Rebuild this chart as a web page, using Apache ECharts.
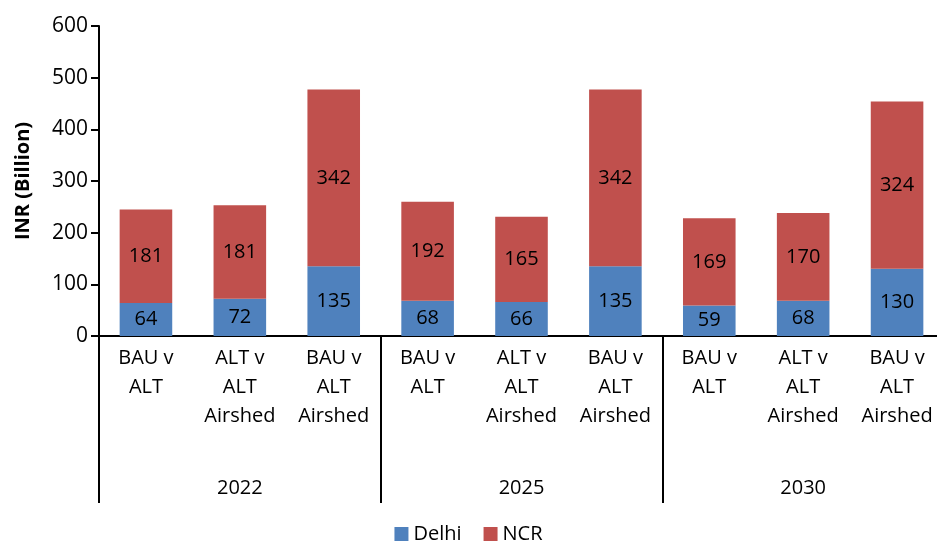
<!DOCTYPE html>
<html>
<head>
<meta charset="utf-8">
<script src="https://cdn.jsdelivr.net/npm/echarts@6/dist/echarts.min.js"></script>
<style>
  html, body { margin: 0; padding: 0; background: #fff; }
  #chart { width: 937px; height: 549px; }
</style>
</head>
<body>
<div id="chart"></div>
<script>
// categories and values
const categories = ['BAU v\nALT', 'ALT v\nALT\nAirshed', 'BAU v\nALT\nAirshed',
                    'BAU v\nALT', 'ALT v\nALT\nAirshed', 'BAU v\nALT\nAirshed',
                    'BAU v\nALT', 'ALT v\nALT\nAirshed', 'BAU v\nALT\nAirshed']
const years = ['2022', '2025', '2030']
const delhi = [64, 72, 135, 68, 66, 135, 59, 68, 130]
const ncr = [181, 181, 342, 192, 165, 342, 169, 170, 324]

const font = 'Open Sans'
const chart = echarts.init(document.getElementById('chart'))

const options = {
  animation: false,
  textStyle: { fontFamily: font },
  grid: {
    left: 99,
    right: -7,
    top: 26,
    bottom: 213,
    outerBoundsMode: 'none',
    containLabel: false
  },
  legend: {
    data: ['Delhi', 'NCR'],
    bottom: 0,
    left: 'center',
    icon: 'rect',
    itemWidth: 14,
    itemHeight: 14,
    itemGap: 22,
    textStyle: { color: '#000', fontSize: 20, fontFamily: font }
  },
  xAxis: [{
    type: 'category',
    data: categories,
    position: 'bottom',
    axisLine: { show: true, lineStyle: { color: '#000', width: 2 } },
    axisTick: { show: false },
    axisLabel: {
      interval: 0,
      color: '#000',
      fontSize: 20,
      lineHeight: 29,
      margin: 8,
      fontFamily: font
    }
  }, {
    // year groups, the long ticks are the separators
    type: 'category',
    data: years,
    position: 'bottom',
    axisLine: { show: false },
    axisTick: {
      show: true,
      interval: 0,
      length: 167,
      lineStyle: { color: '#000', width: 2 }
    },
    axisLabel: {
      color: '#000',
      fontSize: 20,
      margin: 142,
      fontFamily: font
    },
    splitLine: { show: false }
  }],
  yAxis: {
    type: 'value',
    min: 0,
    max: 600,
    interval: 100,
    name: 'INR (Billion)',
    nameLocation: 'middle',
    nameGap: 66,
    nameTextStyle: { color: '#000', fontSize: 20, fontWeight: 'bold', fontFamily: font },
    axisLine: { show: true, lineStyle: { color: '#000', width: 2 } },
    axisTick: { show: true, length: 8, lineStyle: { color: '#000', width: 2 } },
    axisLabel: { color: '#000', fontSize: 21, margin: 11, fontFamily: font },
    splitLine: { show: false }
  },
  series: [{
    name: 'Delhi',
    type: 'bar',
    stack: 'total',
    data: delhi,
    barWidth: '56%',
    itemStyle: { color: '#4F81BD' },
    label: { show: true, position: 'inside', color: '#000', fontSize: 20, fontFamily: font }
  }, {
    name: 'NCR',
    type: 'bar',
    stack: 'total',
    data: ncr,
    barWidth: '56%',
    itemStyle: { color: '#C0504D' },
    label: { show: true, position: 'inside', color: '#000', fontSize: 20, fontFamily: font }
  }]
}

chart.setOption(options)
</script>
</body>
</html>
